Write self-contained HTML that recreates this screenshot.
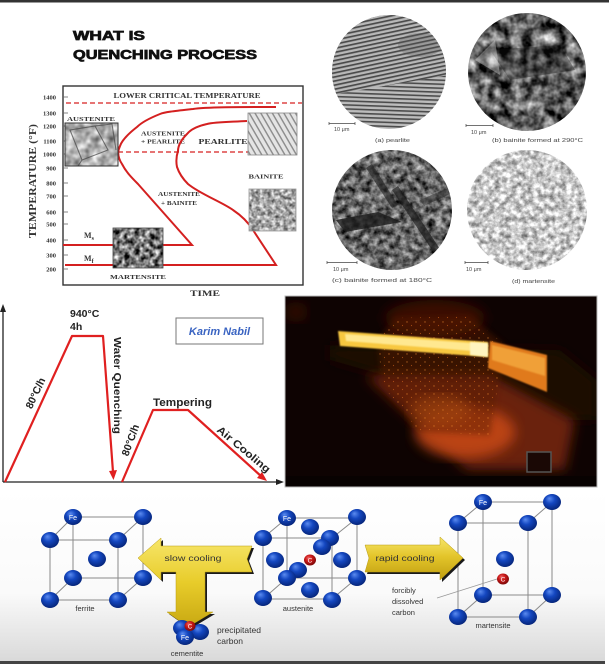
<!DOCTYPE html>
<html><head><meta charset="utf-8"><style>
html,body{margin:0;padding:0;background:#fff;}
svg{display:block;}
.s{font-family:"Liberation Serif",serif;font-weight:bold;fill:#333;}
.a{font-family:"Liberation Sans",sans-serif;}
</style></head><body>
<svg width="609" height="664" viewBox="0 0 609 664" xmlns="http://www.w3.org/2000/svg">
<defs>
<radialGradient id="atom" cx="0.45" cy="0.4" r="0.6" fx="0.35" fy="0.28">
<stop offset="0" stop-color="#5c8cf0"/><stop offset="0.45" stop-color="#1447c0"/><stop offset="1" stop-color="#06257a"/></radialGradient>
<radialGradient id="catom" cx="0.45" cy="0.4" r="0.6" fx="0.35" fy="0.3">
<stop offset="0" stop-color="#f06060"/><stop offset="0.5" stop-color="#c81818"/><stop offset="1" stop-color="#7a0808"/></radialGradient>
<linearGradient id="yel" x1="0" y1="0" x2="0" y2="1">
<stop offset="0" stop-color="#f7e66a"/><stop offset="0.5" stop-color="#e8cc2a"/><stop offset="1" stop-color="#c8a812"/></linearGradient>
<linearGradient id="yel2" x1="0" y1="0" x2="0" y2="1">
<stop offset="0" stop-color="#f7e66a"/><stop offset="0.45" stop-color="#e3c52a"/><stop offset="1" stop-color="#c09e10"/></linearGradient>
<linearGradient id="bg" x1="0" y1="0" x2="0" y2="1">
<stop offset="0" stop-color="#ffffff"/><stop offset="0.6" stop-color="#fafafa"/><stop offset="1" stop-color="#d9d9d9"/></linearGradient>
<filter id="nDark" x="0" y="0" width="1" height="1" color-interpolation-filters="sRGB">
<feTurbulence type="fractalNoise" baseFrequency="0.09" numOctaves="3" seed="3"/>
<feColorMatrix type="matrix" values="1.5 0 0 0 -0.38  1.5 0 0 0 -0.38  1.5 0 0 0 -0.38  0 0 0 0 1"/></filter>
<filter id="nMid" x="0" y="0" width="1" height="1" color-interpolation-filters="sRGB">
<feTurbulence type="fractalNoise" baseFrequency="0.14" numOctaves="3" seed="7"/>
<feColorMatrix type="matrix" values="1.2 0 0 0 -0.2  1.2 0 0 0 -0.2  1.2 0 0 0 -0.2  0 0 0 0 1"/></filter>
<filter id="nLight" x="0" y="0" width="1" height="1" color-interpolation-filters="sRGB">
<feTurbulence type="fractalNoise" baseFrequency="0.18" numOctaves="3" seed="11"/>
<feColorMatrix type="matrix" values="1.0 0 0 0 0.28  1.0 0 0 0 0.28  1.0 0 0 0 0.28  0 0 0 0 1"/></filter>
<filter id="nSq" x="0" y="0" width="1" height="1" color-interpolation-filters="sRGB">
<feTurbulence type="fractalNoise" baseFrequency="0.12" numOctaves="2" seed="5"/>
<feColorMatrix type="matrix" values="0.9 0 0 0 0.25  0.9 0 0 0 0.25  0.9 0 0 0 0.25  0 0 0 0 1"/></filter>
<filter id="nSqB" x="0" y="0" width="1" height="1" color-interpolation-filters="sRGB">
<feTurbulence type="fractalNoise" baseFrequency="0.25" numOctaves="2" seed="5"/>
<feColorMatrix type="matrix" values="1.1 0 0 0 0.1  1.1 0 0 0 0.1  1.1 0 0 0 0.1  0 0 0 0 1"/></filter>
<filter id="nSqD" x="0" y="0" width="1" height="1" color-interpolation-filters="sRGB">
<feTurbulence type="fractalNoise" baseFrequency="0.2" numOctaves="2" seed="9"/>
<feColorMatrix type="matrix" values="1.6 0 0 0 -0.35  1.6 0 0 0 -0.35  1.6 0 0 0 -0.35  0 0 0 0 1"/></filter>
<filter id="blur6"><feGaussianBlur stdDeviation="6"/></filter>
<filter id="blur3"><feGaussianBlur stdDeviation="3"/></filter>
<filter id="blur1"><feGaussianBlur stdDeviation="0.8"/></filter>
<pattern id="lam" patternUnits="userSpaceOnUse" width="4" height="4" patternTransform="rotate(-12)">
<rect width="4" height="4" fill="#b8b8b8"/><rect width="4" height="1.7" fill="#4a4a4a"/></pattern>
<pattern id="lam2" patternUnits="userSpaceOnUse" width="4" height="4" patternTransform="rotate(2)">
<rect width="4" height="4" fill="#bcbcbc"/><rect width="4" height="1.6" fill="#4c4c4c"/></pattern>
<pattern id="lamSq" patternUnits="userSpaceOnUse" width="5" height="5" patternTransform="rotate(60)">
<rect width="5" height="5" fill="#e4e4e4"/><rect width="5" height="1.4" fill="#8a8a8a"/></pattern>
<pattern id="sp" patternUnits="userSpaceOnUse" width="9" height="8">
<circle cx="2" cy="2" r="0.7" fill="#f08a30"/><circle cx="6.5" cy="5.5" r="0.6" fill="#d86a20"/></pattern>
<clipPath id="ca"><circle cx="389" cy="72" r="57"/></clipPath>
<clipPath id="cb"><circle cx="527" cy="72" r="59"/></clipPath>
<clipPath id="cc"><circle cx="392" cy="210" r="60"/></clipPath>
<clipPath id="cd"><circle cx="527" cy="210" r="60"/></clipPath>
<clipPath id="cphoto"><rect x="285" y="296" width="312" height="191"/></clipPath>
<clipPath id="cupper"><polygon points="330,10 450,10 450,75 330,95"/></clipPath>
</defs>

<!-- page backgrounds -->
<rect x="0" y="0" width="609" height="664" fill="#fff"/>
<rect x="0" y="0" width="609" height="2.5" fill="#333"/>
<rect x="0" y="490" width="605" height="172" fill="url(#bg)"/>
<rect x="0" y="661" width="605" height="3" fill="#444"/>

<!-- ===== Title ===== -->
<text x="73" y="40" class="a" font-size="12.5" font-weight="bold" fill="#111" stroke="#111" stroke-width="0.7" textLength="72" lengthAdjust="spacingAndGlyphs">WHAT IS</text>
<text x="73" y="59" class="a" font-size="12.5" font-weight="bold" fill="#111" stroke="#111" stroke-width="0.7" textLength="184" lengthAdjust="spacingAndGlyphs">QUENCHING PROCESS</text>

<!-- ===== TTT Chart ===== -->
<rect x="63" y="86" width="240" height="199" fill="#fff" stroke="#333" stroke-width="1.4"/>
<g stroke="#666" stroke-width="0.8">
<line x1="63" y1="97" x2="68" y2="97"/><line x1="63" y1="113" x2="68" y2="113"/><line x1="63" y1="126" x2="68" y2="126"/>
<line x1="63" y1="141" x2="68" y2="141"/><line x1="63" y1="154" x2="68" y2="154"/><line x1="63" y1="168" x2="68" y2="168"/>
<line x1="63" y1="183" x2="68" y2="183"/><line x1="63" y1="196" x2="68" y2="196"/><line x1="63" y1="212" x2="68" y2="212"/>
<line x1="63" y1="224" x2="68" y2="224"/><line x1="63" y1="240" x2="68" y2="240"/><line x1="63" y1="255" x2="68" y2="255"/>
<line x1="63" y1="269" x2="68" y2="269"/></g>
<g class="s" font-size="6.5" text-anchor="end">
<text x="56" y="99.5">1400</text><text x="56" y="115.5">1300</text><text x="56" y="128.5">1200</text>
<text x="56" y="143.5">1100</text><text x="56" y="156.5">1000</text><text x="56" y="170.5">900</text>
<text x="56" y="185.5">800</text><text x="56" y="198.5">700</text><text x="56" y="214.5">600</text>
<text x="56" y="226.5">500</text><text x="56" y="242.5">400</text><text x="56" y="257.5">300</text>
<text x="56" y="271.5">200</text></g>
<text transform="translate(36,181) rotate(-90)" class="s" font-size="10" text-anchor="middle" textLength="114" lengthAdjust="spacingAndGlyphs">TEMPERATURE (°F)</text>
<text x="205" y="296" class="s" font-size="8.5" text-anchor="middle" textLength="30" lengthAdjust="spacingAndGlyphs">TIME</text>

<text x="187" y="98" class="s" font-size="7" text-anchor="middle" textLength="147" lengthAdjust="spacingAndGlyphs">LOWER CRITICAL TEMPERATURE</text>
<line x1="66" y1="103" x2="302" y2="103" stroke="#d62222" stroke-width="1.3" stroke-dasharray="5,3"/>
<line x1="118" y1="152" x2="248" y2="152" stroke="#d62222" stroke-width="1.3" stroke-dasharray="5,3"/>

<text x="91" y="121" class="s" font-size="6.5" text-anchor="middle" textLength="48" lengthAdjust="spacingAndGlyphs">AUSTENITE</text>
<text x="163" y="135.5" class="s" font-size="6" text-anchor="middle" textLength="44" lengthAdjust="spacingAndGlyphs">AUSTENITE</text>
<text x="163" y="143.5" class="s" font-size="6" text-anchor="middle" textLength="44" lengthAdjust="spacingAndGlyphs">+ PEARLITE</text>
<text x="223" y="144" class="s" font-size="7.5" text-anchor="middle" textLength="49" lengthAdjust="spacingAndGlyphs">PEARLITE</text>
<text x="266" y="178.5" class="s" font-size="6.5" text-anchor="middle" textLength="35" lengthAdjust="spacingAndGlyphs">BAINITE</text>
<text x="179" y="196" class="s" font-size="6" text-anchor="middle" textLength="42" lengthAdjust="spacingAndGlyphs">AUSTENITE</text>
<text x="179" y="205" class="s" font-size="6" text-anchor="middle" textLength="36" lengthAdjust="spacingAndGlyphs">+ BAINITE</text>
<text x="138" y="279" class="s" font-size="6.5" text-anchor="middle" textLength="56" lengthAdjust="spacingAndGlyphs">MARTENSITE</text>
<text x="84" y="238" class="s" font-size="8">M<tspan font-size="6" dy="2">s</tspan></text>
<text x="84" y="261" class="s" font-size="8">M<tspan font-size="6" dy="2">f</tspan></text>

<!-- red curves -->
<g fill="none" stroke="#d42020" stroke-width="2">
<path d="M276,107 C240,107 205,107 193,109 C175,111 165,112 160,114 C150,118 142,122 137,127 C128,134 122,140 120,146 C117,152 118,158 122,164 C126,172 132,178 138,184 L192,245 L63,245"/>
<path d="M247,121 C230,122 215,122 207,124 C198,126 191,129 187,134 C181,140 178,146 178,151 C176,157 176,162 177,167 C179,173 182,178 188,184 C200,194 222,202 233,210 C242,216 248,222 253,230 L276,265 L65,265"/>
</g>

<!-- chart micrograph squares -->
<rect x="65" y="123" width="53" height="43" filter="url(#nSq)"/>
<g stroke="#444" stroke-width="1.1" fill="none" opacity="0.7">
<path d="M70,130 L95,126 L108,150 L82,160 Z"/><path d="M95,126 L112,124 L116,150"/><path d="M82,160 L78,166"/></g>
<rect x="65" y="123" width="53" height="43" fill="none" stroke="#333" stroke-width="1"/>
<rect x="248" y="113" width="49" height="42" fill="url(#lamSq)"/>
<rect x="248" y="113" width="49" height="42" fill="none" stroke="#888" stroke-width="0.8"/>
<rect x="249" y="189" width="47" height="42" filter="url(#nSqB)"/>
<rect x="249" y="189" width="47" height="42" fill="none" stroke="#999" stroke-width="0.8"/>
<rect x="113" y="228" width="50" height="40" filter="url(#nSqD)"/>
<rect x="113" y="228" width="50" height="40" fill="none" stroke="#444" stroke-width="0.8"/>

<!-- ===== Micrographs ===== -->
<g clip-path="url(#ca)">
<rect x="330" y="13" width="120" height="120" fill="url(#lam2)"/>
<rect x="330" y="13" width="120" height="120" fill="url(#lam)" clip-path="url(#cupper)"/>
<ellipse cx="420" cy="45" rx="22" ry="12" fill="#555" opacity="0.3"/>
</g>
<g clip-path="url(#cb)">
<rect x="466" y="11" width="124" height="124" filter="url(#nDark)"/>
<path d="M490,50 L560,45 L575,70 L510,80 Z" fill="#111" opacity="0.35"/>
<path d="M475,60 L495,40 L500,75 Z" fill="#ddd" opacity="0.4"/>
</g>
<g clip-path="url(#cc)">
<rect x="330" y="148" width="124" height="124" filter="url(#nMid)"/>
<path d="M336,220 L378,212 L402,222 L345,232 Z" fill="#1a1a1a" opacity="0.8"/>
<path d="M398,186 L442,252 L436,256 L392,190 Z" fill="#1a1a1a" opacity="0.7"/>
<path d="M372,164 L398,205 L392,208 L366,168 Z" fill="#222" opacity="0.6"/>
<path d="M420,200 L448,188 L450,194 L424,206 Z" fill="#222" opacity="0.5"/>
</g>
<g clip-path="url(#cd)">
<rect x="465" y="148" width="124" height="124" filter="url(#nLight)"/>
</g>
<g class="a" fill="#444" font-size="5.5">
<path d="M329,122 L329,125 M329,123.5 L355,123.5 M355,122 L355,125" stroke="#444" stroke-width="0.7" fill="none"/>
<text x="334" y="131">10 μm</text>
<path d="M466,124 L466,127 M466,125.5 L493,125.5 M493,124 L493,127" stroke="#444" stroke-width="0.7" fill="none"/>
<text x="471" y="134">10 μm</text>
<path d="M327,261 L327,264 M327,262.5 L357,262.5 M357,261 L357,264" stroke="#444" stroke-width="0.7" fill="none"/>
<text x="333" y="271">10 μm</text>
<path d="M465,261 L465,264 M465,262.5 L488,262.5 M488,261 L488,264" stroke="#444" stroke-width="0.7" fill="none"/>
<text x="466" y="271">10 μm</text>
<text x="375" y="142" textLength="35" lengthAdjust="spacingAndGlyphs">(a) pearlite</text>
<text x="492" y="142" textLength="91" lengthAdjust="spacingAndGlyphs">(b) bainite formed at 290°C</text>
<text x="332" y="282" textLength="100" lengthAdjust="spacingAndGlyphs">(c) bainite formed at 180°C</text>
<text x="512" y="283" textLength="43" lengthAdjust="spacingAndGlyphs">(d) martensite</text>
</g>

<!-- ===== Heat treatment graph ===== -->
<g stroke="#222" stroke-width="1.3" fill="#222">
<line x1="3" y1="482" x2="3" y2="310"/>
<polygon points="3,304 0,312 6,312" stroke="none"/>
<line x1="3" y1="482" x2="278" y2="482"/>
<polygon points="284,482 276,479 276,485" stroke="none"/>
</g>
<g stroke="#e02020" stroke-width="2.2" fill="none" stroke-linejoin="round">
<polyline points="5,482 72,336 103,336 113,472"/>
<polyline points="122,482 153,410 188,410 262,477"/>
</g>
<polygon points="113.5,480 109,471 117,470" fill="#e02020"/>
<polygon points="267,481 257,478 262,472" fill="#e02020"/>
<g class="a" font-weight="bold" fill="#222">
<text x="70" y="317" font-size="10.5">940°C</text>
<text x="70" y="330" font-size="10.5">4h</text>
<text transform="translate(114,337) rotate(90)" font-size="10.5" textLength="97" lengthAdjust="spacingAndGlyphs">Water Quenching</text>
<text transform="translate(35,393) rotate(-65)" font-size="10.5" text-anchor="middle" dy="4">80°C/h</text>
<text transform="translate(130,440) rotate(-70)" font-size="10.5" text-anchor="middle" dy="4">80°C/h</text>
<text x="153" y="406" font-size="11" textLength="59" lengthAdjust="spacingAndGlyphs">Tempering</text>
<text transform="translate(244,449) rotate(40)" font-size="10.5" text-anchor="middle" dy="4" textLength="66" lengthAdjust="spacingAndGlyphs">Air Cooling</text>
</g>
<rect x="176" y="318" width="87" height="26" fill="#fff" stroke="#777" stroke-width="1"/>
<text x="219.5" y="335" class="a" font-size="11" font-weight="bold" font-style="italic" fill="#3a64c2" text-anchor="middle">Karim Nabil</text>

<!-- ===== Photo ===== -->
<g clip-path="url(#cphoto)">
<rect x="285" y="296" width="312" height="191" fill="#0e0302"/>
<ellipse cx="296" cy="312" rx="12" ry="10" fill="#3a0e06" filter="url(#blur6)" opacity="0.7"/>
<ellipse cx="435" cy="318" rx="50" ry="18" fill="#3a1005" filter="url(#blur6)"/>
<polygon points="330,345 560,350 597,380 597,420 540,420 330,360" fill="#1e0804" filter="url(#blur6)"/>
<!-- trough glow -->
<polygon points="365,375 490,375 575,420 565,470 467,470" fill="#6a2008" filter="url(#blur6)"/>
<ellipse cx="465" cy="432" rx="50" ry="26" fill="#c84a14" filter="url(#blur6)" opacity="0.85"/>
<ellipse cx="440" cy="410" rx="30" ry="15" fill="#e06a1e" filter="url(#blur6)" opacity="0.6"/>
<!-- sparks curtain -->
<polygon points="395,318 470,316 505,345 490,435 420,432 382,385 378,340" fill="#5a1a06" opacity="0.45" filter="url(#blur3)"/>
<polygon points="395,318 470,316 505,345 490,435 420,432 382,385 378,340" fill="url(#sp)" opacity="0.6"/>
<!-- glowing bar -->
<polygon points="338,331 488,342 488,357 340,346" fill="#f8c840" filter="url(#blur1)"/>
<polygon points="345,334 485,344 485,352 346,341" fill="#ffe890" filter="url(#blur1)"/>
<polygon points="470,342 488,343 488,357 470,355" fill="#fff4c0" filter="url(#blur1)"/>
<polygon points="490,341 547,355 547,392 488,368" fill="#e07a1c" filter="url(#blur1)"/>
<polygon points="492,345 545,358 545,376 492,360" fill="#f0a038" filter="url(#blur1)"/>
<rect x="527" y="452" width="24" height="20" fill="#1a0805" stroke="#555" stroke-width="1.5"/>
<rect x="285" y="476" width="312" height="11" fill="#080201"/>
</g>
<rect x="285" y="296" width="312" height="191" fill="none" stroke="#bbb" stroke-width="1"/>

<!-- ===== Crystal structures ===== -->
<!-- ferrite -->
<g stroke="#8a8a8a" stroke-width="1" fill="none">
<rect x="50" y="540" width="68" height="60"/>
<rect x="73" y="517" width="70" height="61"/>
<line x1="50" y1="540" x2="73" y2="517"/><line x1="118" y1="540" x2="143" y2="517"/>
<line x1="50" y1="600" x2="73" y2="578"/><line x1="118" y1="600" x2="143" y2="578"/>
</g>
<g fill="url(#atom)">
<ellipse cx="73" cy="578" rx="9" ry="8"/><ellipse cx="143" cy="578" rx="9" ry="8"/>
<ellipse cx="143" cy="517" rx="9" ry="8"/><ellipse cx="73" cy="517" rx="9" ry="8"/>
<ellipse cx="97" cy="559" rx="9" ry="8"/>
<ellipse cx="50" cy="540" rx="9" ry="8"/><ellipse cx="118" cy="540" rx="9" ry="8"/>
<ellipse cx="50" cy="600" rx="9" ry="8"/><ellipse cx="118" cy="600" rx="9" ry="8"/>
</g>
<text x="73" y="520" class="a" font-size="7" fill="#fff" text-anchor="middle">Fe</text>
<text x="85" y="611" class="a" font-size="7.5" fill="#333" text-anchor="middle">ferrite</text>

<!-- austenite -->
<g stroke="#8a8a8a" stroke-width="1" fill="none">
<rect x="263" y="538" width="69" height="61"/>
<rect x="287" y="518" width="70" height="60"/>
<line x1="263" y1="538" x2="287" y2="518"/><line x1="332" y1="538" x2="357" y2="518"/>
<line x1="263" y1="599" x2="287" y2="578"/><line x1="332" y1="599" x2="357" y2="578"/>
</g>
<g fill="url(#atom)">
<ellipse cx="310" cy="527" rx="9" ry="8"/><ellipse cx="357" cy="517" rx="9" ry="8"/>
<ellipse cx="287" cy="518" rx="9" ry="8"/>
<ellipse cx="275" cy="560" rx="9" ry="8"/><ellipse cx="342" cy="560" rx="9" ry="8"/>
<ellipse cx="310" cy="590" rx="9" ry="8"/><ellipse cx="357" cy="578" rx="9" ry="8"/>
<ellipse cx="263" cy="538" rx="9" ry="8"/>
<ellipse cx="330" cy="538" rx="9" ry="8"/><ellipse cx="322" cy="547" rx="9" ry="8"/>
<ellipse cx="298" cy="570" rx="9" ry="8"/><ellipse cx="287" cy="578" rx="9" ry="8"/>
<ellipse cx="263" cy="598" rx="9" ry="8"/><ellipse cx="332" cy="600" rx="9" ry="8"/>
</g>
<ellipse cx="310" cy="560" rx="6" ry="5.5" fill="url(#catom)"/>
<text x="310" y="562.5" class="a" font-size="6.5" fill="#fff" text-anchor="middle">C</text>
<text x="287" y="521" class="a" font-size="7" fill="#fff" text-anchor="middle">Fe</text>
<text x="298" y="611" class="a" font-size="7.5" fill="#333" text-anchor="middle">austenite</text>

<!-- martensite -->
<g stroke="#8a8a8a" stroke-width="1" fill="none">
<rect x="458" y="523" width="70" height="94"/>
<rect x="483" y="502" width="69" height="93"/>
<line x1="458" y1="523" x2="483" y2="502"/><line x1="528" y1="523" x2="552" y2="502"/>
<line x1="458" y1="617" x2="483" y2="595"/><line x1="528" y1="617" x2="552" y2="595"/>
<line x1="437" y1="598" x2="497" y2="579" stroke="#999" stroke-width="0.8"/>
</g>
<g fill="url(#atom)">
<ellipse cx="483" cy="595" rx="9" ry="8"/><ellipse cx="552" cy="595" rx="9" ry="8"/>
<ellipse cx="483" cy="502" rx="9" ry="8"/><ellipse cx="552" cy="502" rx="9" ry="8"/>
<ellipse cx="505" cy="559" rx="9" ry="8"/>
<ellipse cx="458" cy="523" rx="9" ry="8"/><ellipse cx="528" cy="523" rx="9" ry="8"/>
<ellipse cx="458" cy="617" rx="9" ry="8"/><ellipse cx="528" cy="617" rx="9" ry="8"/>
</g>
<ellipse cx="503" cy="579" rx="6" ry="5.5" fill="url(#catom)"/>
<text x="503" y="581.5" class="a" font-size="6.5" fill="#fff" text-anchor="middle">C</text>
<text x="483" y="505" class="a" font-size="7" fill="#fff" text-anchor="middle">Fe</text>
<text x="493" y="628" class="a" font-size="7.5" fill="#333" text-anchor="middle">martensite</text>
<g class="a" font-size="7.5" fill="#333">
<text x="392" y="593">forcibly</text><text x="392" y="604">dissolved</text><text x="392" y="615">carbon</text>
</g>

<!-- slow cooling T arrow -->
<polygon points="140,560 163,540 163,548 254,548 249,561 254,574 207,574 207,614 215,614 190,629 169,614 178,614 178,574 163,574 163,582" fill="#1a1a1a"/>
<polygon points="138,558 161,538 161,546 252,546 247,559 252,572 205,572 205,612 213,612 188,627 167,612 176,612 176,572 161,572 161,580" fill="url(#yel)" stroke="#b89a10" stroke-width="0.5"/>
<text x="193" y="561" class="a" font-size="8" fill="#333" text-anchor="middle" textLength="57" lengthAdjust="spacingAndGlyphs">slow cooling</text>

<!-- cementite -->
<g fill="url(#atom)">
<ellipse cx="182" cy="628" rx="9" ry="8"/><ellipse cx="200" cy="632" rx="9" ry="8"/>
<ellipse cx="185" cy="637" rx="9" ry="8"/>
</g>
<ellipse cx="190" cy="626" rx="5.5" ry="5" fill="url(#catom)"/>
<text x="190" y="628.5" class="a" font-size="6" fill="#fff" text-anchor="middle">C</text>
<text x="185" y="640" class="a" font-size="7" fill="#fff" text-anchor="middle">Fe</text>
<text x="187" y="656" class="a" font-size="7.5" fill="#333" text-anchor="middle">cementite</text>
<g class="a" font-size="8.5" fill="#333">
<text x="217" y="633">precipitated</text>
<text x="217" y="644">carbon</text>
</g>

<!-- rapid cooling arrow -->
<polygon points="367,547 442,547 442,539 465,560 442,582 442,574 367,574 371,560" fill="#1a1a1a"/>
<polygon points="365,545 440,545 440,537 463,558 440,580 440,572 365,572 369,558" fill="url(#yel2)" stroke="#b89a10" stroke-width="0.5"/>
<text x="405" y="561" class="a" font-size="8" fill="#333" text-anchor="middle" textLength="59" lengthAdjust="spacingAndGlyphs">rapid cooling</text>
</svg>
</body></html>
